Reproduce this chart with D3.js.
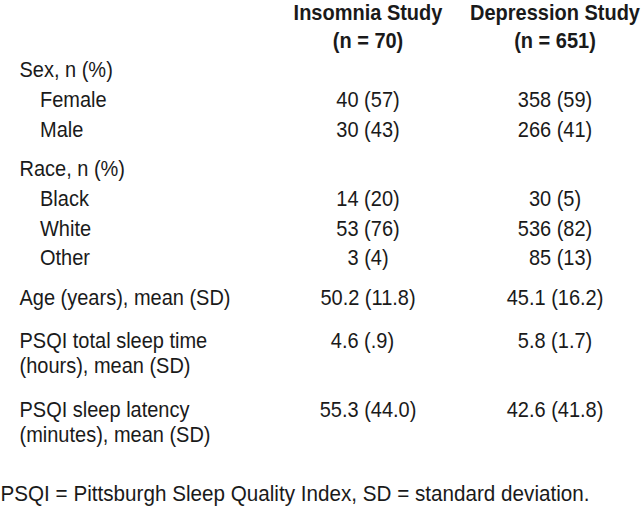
<!DOCTYPE html>
<html><head><meta charset="utf-8">
<script src="https://cdn.jsdelivr.net/npm/d3@7"></script>
<style>
html,body{margin:0;padding:0;background:#fff;}
svg text{font-family:"Liberation Sans",Arial,Helvetica,sans-serif;font-size:21.5px;fill:#1a1a1a;white-space:pre;}
</style></head>
<body>
<svg id="chart" width="642" height="509"></svg>
<script>
// Table content
const columns = ["Insomnia Study", "Depression Study"];
const columnN = ["(n = 70)", "(n = 651)"];
const rowLabels = [
  ["Sex, n (%)"], ["Female"], ["Male"],
  ["Race, n (%)"], ["Black"], ["White"], ["Other"],
  ["Age (years), mean (SD)"],
  ["PSQI total sleep time", "(hours), mean (SD)"],
  ["PSQI sleep latency", "(minutes), mean (SD)"]
];
const rowIndent = [false, true, true, false, true, true, true, false, false, false];
const groupStart = [true, false, false, true, false, false, false, true, true, true];
const insomniaValues = ["", "40 (57)", "30 (43)", "", "14 (20)", "53 (76)", "3 (4)", "50.2 (11.8)", "4.6 (.9)\u2007", "55.3 (44.0)"];
const depressionValues = ["", "358 (59)", "266 (41)", "", "30 (5)", "536 (82)", "\u200785 (13)", "45.1 (16.2)", "5.8 (1.7)", "42.6 (41.8)"];
const footnote = "PSQI = Pittsburgh Sleep Quality Index, SD = standard deviation.";

const svg = d3.select("#chart");
const lineH = 29.8, groupGap = 9.5, innerH = 24.8, multiPad = 4.5;
const SX = 0.93;

const colX = d3.scaleOrdinal().domain(columns).range([368, 555]);

function put(g, x, y, str, anchor, sx) {
  return g.append("text")
    .attr("transform", `translate(${x},${y}) scale(${sx || SX},1)`)
    .attr("text-anchor", anchor || "start")
    .text(str);
}

const head = svg.append("g").attr("font-weight", "bold");
columns.forEach((c, i) => {
  put(head, colX(c), 20, c, "middle");
  put(head, colX(c), 48, columnN[i], "middle");
});

let y = 77;
const rows = rowLabels.map((lab, i) => {
  if (i > 0) {
    const prev = rowLabels[i - 1];
    y += lineH + (prev.length - 1) * innerH + (groupStart[i] ? groupGap : 0);
    if (lab.length > 1 || prev.length > 1) y += multiPad;
  }
  return {lab, indent: rowIndent[i], ins: insomniaValues[i], dep: depressionValues[i], y};
});

const body = svg.append("g");
rows.forEach(r => {
  r.lab.forEach((t, k) => put(body, r.indent ? 40 : 19.5, r.y + k * innerH, t));
  put(body, colX(columns[0]), r.y, r.ins, "middle");
  put(body, colX(columns[1]), r.y, r.dep, "middle");
});

put(svg, 0.5, 501, footnote, "start", 0.961);
</script>
</body></html>
